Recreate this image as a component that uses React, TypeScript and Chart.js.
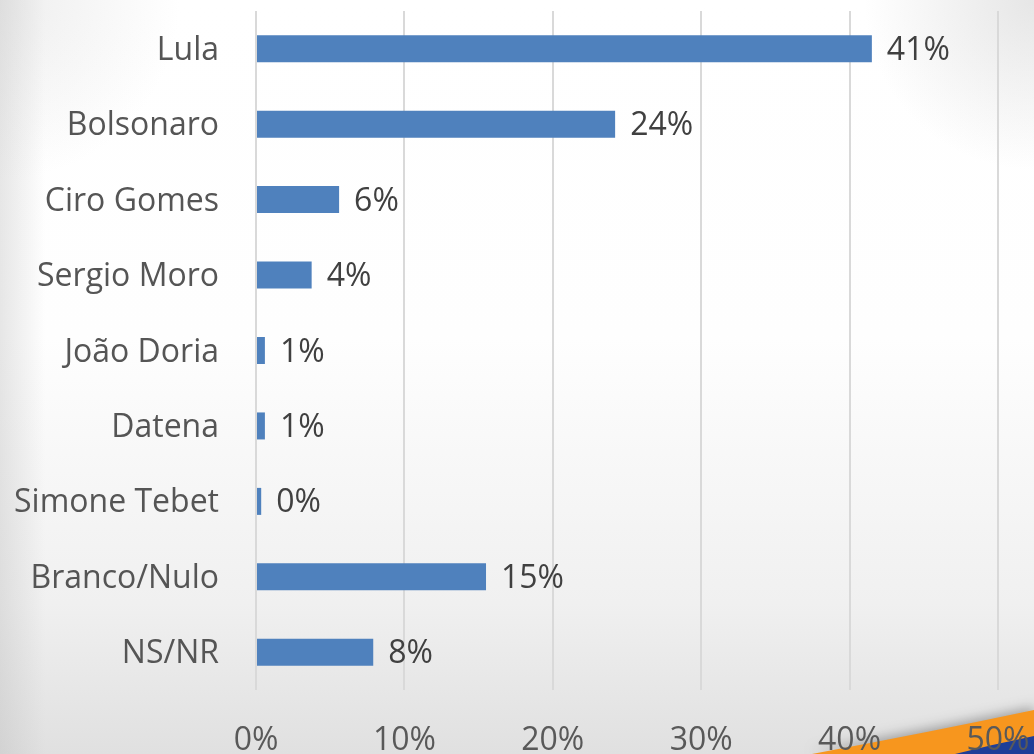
import React, { useEffect, useRef } from "react";
import { Chart, registerables } from "chart.js";

Chart.register(...registerables);

const categories = [
  "Lula",
  "Bolsonaro",
  "Ciro Gomes",
  "Sergio Moro",
  "João Doria",
  "Datena",
  "Simone Tebet",
  "Branco/Nulo",
  "NS/NR",
];
const values = [41.5, 24.2, 5.6, 3.75, 0.6, 0.6, 0.35, 15.5, 7.9];
const valueLabels = ["41%", "24%", "6%", "4%", "1%", "1%", "0%", "15%", "8%"];
const xMin = 0;
const xMax = 50;
const xStep = 10;

const FONT = "'Open Sans', 'DejaVu Sans', sans-serif";

const backgroundPlugin = {
  id: "bgDecor",
  beforeDraw(chart: any) {
    const { ctx, width, height } = chart;
    ctx.save();
    const g = ctx.createLinearGradient(0, 0, 0, height);
    g.addColorStop(0, "#ffffff");
    g.addColorStop(0.45, "#fefefe");
    g.addColorStop(0.8, "#f0f0f0");
    g.addColorStop(1, "#e0e0e0");
    ctx.fillStyle = g;
    ctx.fillRect(0, 0, width, height);

    const gl = ctx.createLinearGradient(0, 0, 45, 0);
    gl.addColorStop(0, "rgba(185,185,185,0.35)");
    gl.addColorStop(1, "rgba(185,185,185,0)");
    ctx.fillStyle = gl;
    ctx.fillRect(0, 0, 45, height);

    const gr = ctx.createRadialGradient(width, 0, 0, width, 0, 170);
    gr.addColorStop(0, "rgba(200,200,200,0.45)");
    gr.addColorStop(1, "rgba(200,200,200,0)");
    ctx.fillStyle = gr;
    ctx.fillRect(width - 200, 0, 200, 200);

    const gt = ctx.createRadialGradient(0, 0, 0, 0, 0, 180);
    gt.addColorStop(0, "rgba(205,205,205,0.35)");
    gt.addColorStop(1, "rgba(205,205,205,0)");
    ctx.fillStyle = gt;
    ctx.fillRect(0, 0, 200, 200);

    // decorative swoosh
    ctx.shadowColor = "rgba(0,0,0,0.3)";
    ctx.shadowBlur = 12;
    ctx.shadowOffsetY = -3;
    ctx.beginPath();
    ctx.moveTo(812, height);
    ctx.quadraticCurveTo(930, 732, width, 710);
    ctx.lineTo(width, height);
    ctx.closePath();
    ctx.fillStyle = "#f7961e";
    ctx.fill();
    ctx.shadowColor = "transparent";
    ctx.shadowBlur = 0;
    ctx.beginPath();
    ctx.moveTo(955, height);
    ctx.quadraticCurveTo(995, 744, width, 736);
    ctx.lineTo(width, height);
    ctx.closePath();
    ctx.fillStyle = "#1e3e98";
    ctx.fill();
    ctx.restore();
  },
};

const valueLabelPlugin = {
  id: "valueLabels",
  afterDatasetsDraw(chart: any) {
    const { ctx } = chart;
    const meta = chart.getDatasetMeta(0);
    ctx.save();
    ctx.font = `32px ${FONT}`;
    ctx.fillStyle = "#404040";
    ctx.textAlign = "left";
    ctx.textBaseline = "middle";
    meta.data.forEach((bar: any, i: number) => {
      ctx.fillText(valueLabels[i], bar.x + 15, bar.y + 2);
    });
    ctx.restore();
  },
};

const zeroPadding = (scale: any) => {
  scale.paddingTop = 0;
  scale.paddingBottom = 0;
  scale.paddingLeft = 0;
  scale.paddingRight = 0;
};

export default function App() {
  const canvasRef = useRef<HTMLCanvasElement | null>(null);

  useEffect(() => {
    if (!canvasRef.current) return;
    const chart = new Chart(canvasRef.current, {
      type: "bar",
      data: {
        labels: categories,
        datasets: [
          {
            data: values,
            backgroundColor: "#4f81bd",
            borderWidth: 0,
            barPercentage: 0.358,
            categoryPercentage: 1,
          },
        ],
      },
      options: {
        indexAxis: "y",
        animation: false,
        responsive: true,
        maintainAspectRatio: false,
        layout: { padding: { top: 11, right: 36, left: 0, bottom: 0 } },
        plugins: {
          legend: { display: false },
          tooltip: { enabled: false },
        },
        scales: {
          x: {
            min: xMin,
            max: xMax,
            ticks: {
              stepSize: xStep,
              padding: 32,
              color: "#595959",
              font: { family: FONT, size: 32 },
              callback: (v: any) => `${v}%`,
            },
            grid: { color: "#d9d9d9", lineWidth: 2, drawTicks: false },
            border: { display: false },
            afterFit: (scale: any) => {
              scale.height = 64;
              zeroPadding(scale);
            },
          },
          y: {
            ticks: {
              padding: 37,
              labelOffset: 2,
              color: "#555555",
              font: { family: FONT, size: 32 },
            },
            grid: { display: false, drawTicks: false },
            border: { display: false },
            afterFit: (scale: any) => {
              scale.width = 256;
              zeroPadding(scale);
            },
          },
        },
      },
      plugins: [backgroundPlugin, valueLabelPlugin],
    });
    return () => chart.destroy();
  }, []);

  return (
    <div style={{ position: "fixed", left: 0, top: 0, width: 1034, height: 754 }}>
      <canvas ref={canvasRef} />
    </div>
  );
}
